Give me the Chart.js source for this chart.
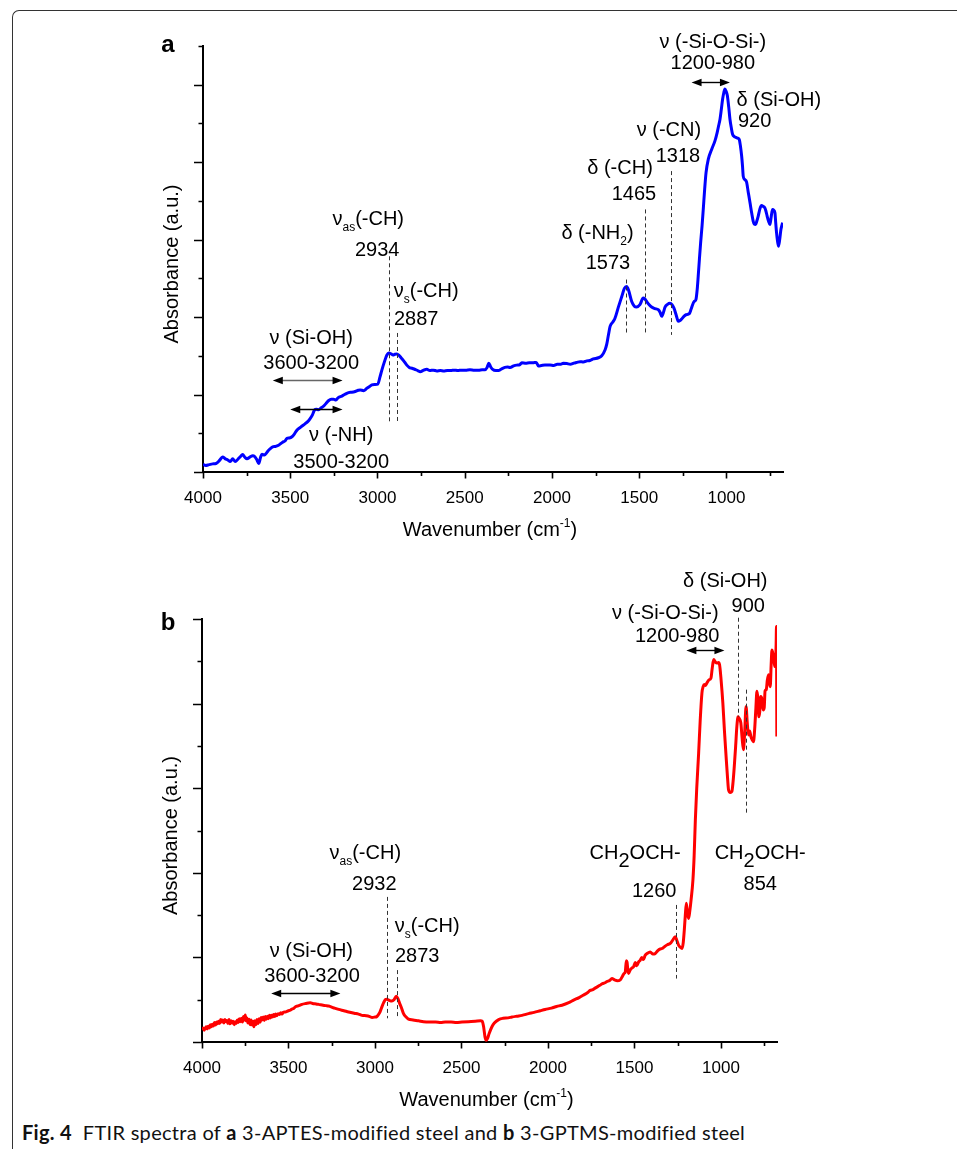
<!DOCTYPE html>
<html>
<head>
<meta charset="utf-8">
<title>FTIR spectra</title>
<script src="https://cdn.jsdelivr.net/npm/chart.js@4/dist/chart.umd.min.js"></script>
<style>
  html, body { margin: 0; padding: 0; background: #fff; }
  #page { position: relative; width: 957px; height: 1149px; overflow: hidden; background: #fff; }
  #frame { position: absolute; left: 12px; top: 10px; width: 980px; height: 1180px;
           border-left: 1px solid #333; border-top: 1px solid #333; border-top-left-radius: 7px; }
  canvas { position: absolute; left: 0; }
  #chartA { top: 0; }
  #chartB { top: 560px; }
  #caption { position: absolute; left: 22px; top: 1120px; font-family: Lato, "Liberation Sans", Arial, sans-serif;
             font-size: 20px; letter-spacing: 0.3px; color: #111; white-space: nowrap; }
  #caption b { font-weight: 700; }
</style>
</head>
<body>
<div id="page">
  <div id="frame"></div>
  <canvas id="chartA" width="957" height="560"></canvas>
  <canvas id="chartB" width="957" height="560"></canvas>
  <div id="caption"><b>Fig. 4</b>&nbsp; FTIR spectra of <b>a</b> 3-APTES-modified steel and <b>b</b> 3-GPTMS-modified steel</div>
</div>
<script>
// ---- Spectrum (a): 3-APTES-modified steel ----
const aWavenumber = [
  4000,3985,3965,3945,3925,3905,3888,3872,3858,3844,3830,3815,3800,3785,3773,3760,3748,3730,3715,3704,
  3692,3681,3670,3662,3648,3635,3620,3601,3585,3567,3544,3530,3519,3505,3490,3475,3462,3440,3414,3400,
  3386,3372,3361,3350,3338,3322,3309,3295,3281,3265,3252,3238,3225,3204,3185,3166,3148,3128,3110,3099,
  3080,3061,3045,3032,3015,2998,2986,2975,2960,2946,2935,2922,2911,2900,2889,2878,2865,2850,2832,2818,
  2803,2790,2770,2755,2735,2717,2700,2680,2660,2640,2620,2600,2580,2560,2540,2517,2495,2470,2445,2420,
  2400,2385,2372,2362,2352,2340,2322,2307,2290,2270,2255,2240,2220,2202,2185,2173,2150,2130,2110,2090,
  2078,2060,2040,2011,1990,1970,1950,1935,1915,1895,1875,1858,1839,1820,1800,1782,1763,1734,1715,1696,
  1686,1676,1667,1650,1639,1620,1600,1585,1572,1560,1543,1528,1515,1496,1477,1468,1457,1443,1429,1410,
  1391,1380,1371,1360,1352,1338,1324,1312,1301,1288,1276,1266,1257,1244,1232,1213,1203,1194,1185,1175,
  1168,1162,1155,1148,1140,1133,1125,1117,1104,1085,1066,1053,1045,1037,1029,1022,1015,1009,1002,995,
  987,980,972,965,955,946,936,927,920,913,908,904,895,885,875,865,856,847,840,833,
  826,818,808,799,790,780,774,767,759,751,744,736,729,722,718,713,708,702,695,688,678
];
const aAbsorbance = [
  0.20,0.17,0.19,0.21,0.22,0.30,0.39,0.34,0.31,0.27,0.34,0.27,0.33,0.40,0.45,0.38,0.34,0.39,0.42,0.40,
  0.32,0.22,0.38,0.46,0.44,0.50,0.58,0.65,0.66,0.69,0.77,0.80,0.87,0.88,0.91,0.99,1.08,1.16,1.25,1.30,
  1.38,1.48,1.60,1.62,1.61,1.66,1.70,1.77,1.84,1.88,1.88,1.86,1.92,1.96,2.01,2.05,2.06,2.08,2.11,2.12,
  2.10,2.16,2.21,2.25,2.26,2.27,2.45,2.63,2.85,3.02,3.07,3.05,3.02,3.04,3.05,3.02,2.95,2.87,2.76,2.70,
  2.68,2.66,2.62,2.59,2.63,2.65,2.62,2.63,2.61,2.62,2.61,2.62,2.62,2.63,2.62,2.63,2.63,2.64,2.63,2.63,
  2.64,2.64,2.70,2.81,2.72,2.65,2.62,2.62,2.66,2.70,2.71,2.70,2.74,2.76,2.77,2.82,2.81,2.82,2.82,2.83,
  2.74,2.75,2.76,2.76,2.75,2.78,2.78,2.81,2.80,2.78,2.81,2.83,2.85,2.84,2.87,2.88,2.92,2.95,3.00,3.15,
  3.30,3.55,3.76,3.88,3.97,4.25,4.53,4.74,4.79,4.68,4.40,4.28,4.26,4.32,4.49,4.47,4.40,4.32,4.26,4.22,
  4.19,4.12,4.02,4.14,4.26,4.33,4.36,4.32,4.23,4.05,3.89,3.91,3.95,4.02,4.06,4.09,4.20,4.32,4.40,4.45,
  4.70,5.05,5.50,5.92,6.35,6.78,7.30,7.73,8.08,8.33,8.55,8.77,8.94,9.11,9.38,9.63,9.80,9.89,9.83,9.72,
  9.42,9.11,8.88,8.72,8.66,8.64,8.62,8.59,8.42,8.16,7.90,7.64,7.55,7.49,7.22,6.95,6.70,6.48,6.40,6.39,
  6.48,6.61,6.80,6.88,6.86,6.82,6.74,6.61,6.48,6.39,6.58,6.78,6.76,6.69,6.45,6.18,5.98,5.83,6.00,6.26,6.44
];

// ---- Spectrum (b): 3-GPTMS-modified steel ----
const bWavenumber = [
  4000,3994,3988,3982,3976,3970,3964,3958,3952,3946,3940,3934,3928,3922,3916,3910,3904,3898,3892,3886,
  3880,3874,3868,3862,3856,3850,3844,3838,3832,3826,3820,3814,3808,3802,3796,3790,3784,3778,3772,3766,
  3760,3754,3750,3746,3740,3734,3728,3722,3716,3710,3704,3700,3694,3688,3682,3676,3670,3664,3658,3652,
  3646,3640,3634,3628,3622,3616,3610,3604,3598,3592,3586,3580,3574,3568,3560,3552,3545,3538,3530,3519,
  3500,3490,3480,3470,3461,3440,3422,3400,3385,3374,3360,3340,3326,3300,3285,3268,
  3240,3210,3180,3153,3120,3095,3075,3050,3030,3017,3000,2990,2983,2970,2960,2950,2940,2932,2925,2915,
  2902,2890,2877,2868,2858,2846,2835,2820,2806,2780,2748,2720,2690,2650,2620,2594,2560,2530,2497,2460,
  2420,2390,2380,2372,2364,2357,2350,2340,2324,2310,2285,2260,2230,2208,2180,2150,2112,2080,2044,2016,
  1980,1950,1919,1880,1852,1820,1790,1770,1756,1740,1725,1700,1685,1670,1659,1645,1630,1615,1600,1582,
  1570,1560,1553,1547,1543,1538,1534,1525,1515,1505,1495,1487,1475,1467,1458,1448,1438,1425,1409,1395,
  1380,1365,1350,1341,1325,1310,1293,1280,1264,1255,1245,1235,1225,1218,1212,1206,1200,1194,1187,1180,
  1173,1162,1155,1148,1140,1129,1120,1110,1103,1096,1089,1081,1070,1058,1050,1042,1032,1023,1015,1008,
  999,989,979,969,962,956,946,937,930,923,915,908,901,896,885,878,870,863,855,848,
  841,834,827,820,812,805,798,792,786,781,776,770,763,756,750,745,738,732,725,720,
  715,710,705,700,696,690,686,681,679,677
];
const bAbsorbance = [
  0.29,0.33,0.28,0.32,0.36,0.31,0.37,0.33,0.41,0.36,0.42,0.38,0.46,0.40,0.47,0.43,0.49,0.44,0.53,0.47,
  0.52,0.45,0.53,0.48,0.51,0.44,0.53,0.43,0.50,0.45,0.49,0.41,0.48,0.44,0.52,0.46,0.55,0.48,0.56,0.47,
  0.60,0.52,0.64,0.50,0.57,0.45,0.54,0.41,0.52,0.40,0.49,0.36,0.50,0.41,0.53,0.44,0.55,0.47,0.58,0.52,
  0.59,0.51,0.60,0.54,0.61,0.55,0.63,0.57,0.63,0.59,0.65,0.60,0.66,0.62,0.67,0.65,0.69,0.66,0.70,0.71,
  0.74,0.75,0.78,0.79,0.83,0.86,0.89,0.91,0.92,0.93,0.91,0.90,0.89,0.87,0.86,0.85,
  0.81,0.77,0.74,0.71,0.68,0.66,0.63,0.62,0.60,0.58,0.59,0.60,0.63,0.72,0.83,0.93,1.00,1.01,1.00,0.98,
  0.97,1.00,1.08,1.03,0.92,0.80,0.67,0.59,0.54,0.52,0.50,0.48,0.47,0.47,0.46,0.47,0.47,0.46,0.47,0.48,
  0.49,0.50,0.49,0.36,0.12,0.04,0.08,0.20,0.36,0.45,0.53,0.56,0.57,0.59,0.61,0.63,0.67,0.70,0.74,0.77,
  0.80,0.84,0.87,0.93,0.99,1.05,1.12,1.17,1.22,1.24,1.28,1.34,1.38,1.40,1.43,1.45,1.50,1.47,1.45,1.47,
  1.55,1.62,1.66,1.92,1.89,1.70,1.62,1.70,1.75,1.78,1.88,1.80,1.90,1.93,2.00,1.95,2.05,2.10,2.13,2.08,
  2.09,2.16,2.20,2.21,2.26,2.30,2.33,2.40,2.49,2.40,2.29,2.24,2.21,2.35,2.64,3.00,3.28,3.05,2.92,3.10,
  3.35,3.83,4.40,5.25,6.00,6.83,7.60,8.25,8.40,8.45,8.43,8.49,8.56,8.60,8.85,9.04,8.98,8.96,8.97,8.92,
  8.55,8.01,7.30,6.67,6.25,5.96,5.90,5.92,6.15,6.51,7.00,7.46,7.69,7.66,7.54,7.20,6.91,7.30,7.93,7.55,
  7.26,7.35,7.22,7.15,7.10,7.40,7.90,8.29,8.10,7.69,7.80,8.17,8.10,7.85,7.90,8.30,8.33,8.55,8.68,8.50,
  8.40,8.90,9.27,9.19,9.15,8.88,8.88,9.40,9.82,7.22
];

// ---- Axis ticks (cm-1) ----
const xMajorTicks = [4000, 3500, 3000, 2500, 2000, 1500, 1000];
const xMinorTicks = [3750, 3250, 2750, 2250, 1750, 1250, 750];
const X_MAX = 4000;
const X_MIN = 676;

const FONT = '"Liberation Sans", Arial, Helvetica, sans-serif';

// Mixed-size text runs: [text, style] where style '' = normal, 's' = small subscript,
// 'S' = full-size lowered subscript, 'p' = small superscript.
function segFont(seg, base) {
  const st = seg[1] || '';
  const size = (st === 's' || st === 'p') ? Math.round(base * 0.6) : base;
  return { size, dy: st === 's' ? base * 0.3 : st === 'S' ? base * 0.4 : st === 'p' ? -base * 0.45 : 0 };
}
function drawRich(ctx, segs, x, cy, align, base) {
  base = base || 20;
  let w = 0;
  for (const s of segs) { const f = segFont(s, base); ctx.font = f.size + 'px ' + FONT; w += ctx.measureText(s[0]).width; }
  let cx = align === 'left' ? x : x - w / 2;
  const baseline = cy + base * 0.36;
  ctx.textAlign = 'left';
  ctx.textBaseline = 'alphabetic';
  ctx.fillStyle = '#000';
  for (const s of segs) {
    const f = segFont(s, base);
    ctx.font = f.size + 'px ' + FONT;
    ctx.fillText(s[0], cx, baseline + f.dy);
    cx += ctx.measureText(s[0]).width;
  }
}

function arrowHead(ctx, x, y, dir) {
  ctx.beginPath();
  ctx.moveTo(x, y);
  ctx.lineTo(x - dir * 10, y - 3.8);
  ctx.lineTo(x - dir * 10, y + 3.8);
  ctx.closePath();
  ctx.fill();
}

// Outward tick marks: long at major positions, short at minor ones
function tickMarks() {
  return {
    id: 'tickMarks',
    afterDraw(chart) {
      const { ctx, chartArea: a, scales: { x, y } } = chart;
      ctx.save();
      ctx.strokeStyle = '#000';
      ctx.lineWidth = 1.6;
      ctx.beginPath();
      for (let v = y.min; v <= y.max + 1e-9; v += 1) {
        const py = Math.round(y.getPixelForValue(v)) + 0.5;
        const len = (Math.round(v) % 2 === 0) ? 9 : 4.5;
        ctx.moveTo(a.left - len, py); ctx.lineTo(a.left, py);
      }
      for (const w of xMajorTicks) {
        const px = Math.round(x.getPixelForValue(w)) + 0.5;
        ctx.moveTo(px, a.bottom); ctx.lineTo(px, a.bottom + 6.5);
      }
      for (const w of xMinorTicks) {
        const px = Math.round(x.getPixelForValue(w)) + 0.5;
        ctx.moveTo(px, a.bottom); ctx.lineTo(px, a.bottom + 4);
      }
      ctx.stroke();
      ctx.restore();
    }
  };
}

// Band labels, marker lines, range arrows, axis titles and panel letter
function bandLabels(items, panel) {
  return {
    id: 'bandLabels',
    afterDraw(chart) {
      const { ctx, chartArea: a, scales: { x, y } } = chart;
      ctx.save();
      for (const it of items) {
        if (it.kind === 'text') {
          drawRich(ctx, it.segs, x.getPixelForValue(it.x), y.getPixelForValue(it.y), it.align || 'center', 20);
        } else if (it.kind === 'dash') {
          const px = Math.round(x.getPixelForValue(it.x)) + 0.5;
          ctx.save();
          ctx.strokeStyle = '#333';
          ctx.lineWidth = 1;
          ctx.setLineDash([4, 3]);
          ctx.beginPath();
          ctx.moveTo(px, y.getPixelForValue(it.y1));
          ctx.lineTo(px, y.getPixelForValue(it.y2));
          ctx.stroke();
          ctx.restore();
        } else if (it.kind === 'arrow') {
          const x1 = x.getPixelForValue(it.from), x2 = x.getPixelForValue(it.to);
          const py = Math.round(y.getPixelForValue(it.y)) + 0.5;
          ctx.save();
          ctx.strokeStyle = it.color || '#000';
          ctx.lineWidth = 1.4;
          ctx.beginPath(); ctx.moveTo(x1 + 6, py); ctx.lineTo(x2 - 6, py); ctx.stroke();
          ctx.fillStyle = '#000';
          arrowHead(ctx, x1, py, -1);
          arrowHead(ctx, x2, py, 1);
          ctx.restore();
        }
      }
      // panel letter
      ctx.fillStyle = '#000';
      ctx.font = 'bold 24px ' + FONT;
      ctx.textAlign = 'center';
      ctx.textBaseline = 'alphabetic';
      ctx.fillText(panel.text, a.left + panel.dx, a.top + panel.dy);
      // y title
      ctx.save();
      ctx.translate(a.left - 31, (a.top + a.bottom) / 2 + 5);
      ctx.rotate(-Math.PI / 2);
      ctx.font = '20px ' + FONT;
      ctx.textAlign = 'center';
      ctx.textBaseline = 'middle';
      ctx.fillText('Absorbance (a.u.)', 0, 0);
      ctx.restore();
      // x title
      drawRich(ctx, [['Wavenumber (cm'], ['-1', 'p'], [')']], (a.left + a.right) / 2 - 3, a.bottom + 57, 'center', 20);
      ctx.restore();
    }
  };
}

function buildSpectrum(canvasId, wn, absorb, color, yMax, box, items, panel) {
  const canvas = document.getElementById(canvasId);
  const W = canvas.width, H = canvas.height;
  return new Chart(canvas, {
    type: 'line',
    data: {
      datasets: [{
        data: wn.map((w, i) => ({ x: w, y: absorb[i] })),
        borderColor: color,
        borderWidth: 3,
        pointRadius: 0,
        fill: false,
        cubicInterpolationMode: 'monotone'
      }]
    },
    options: {
      responsive: false,
      animation: false,
      devicePixelRatio: 1,
      layout: { padding: { top: box.top, right: W - box.right, bottom: 0, left: 0 } },
      plugins: { legend: { display: false }, tooltip: { enabled: false }, title: { display: false } },
      scales: {
        x: {
          type: 'linear',
          reverse: true,
          min: X_MIN,
          max: X_MAX,
          grid: { display: false },
          border: { display: true, color: '#000', width: 2 },
          afterBuildTicks(scale) {
            scale.ticks = xMajorTicks.concat(xMinorTicks).sort((p, q) => q - p).map(v => ({ value: v }));
          },
          afterFit(scale) { scale.height = H - box.bottom; },
          ticks: {
            autoSkip: false,
            maxRotation: 0,
            padding: 8,
            color: '#000',
            font: { family: FONT, size: 17 },
            callback: (v) => (xMajorTicks.includes(v) ? String(v) : '')
          }
        },
        y: {
          min: 0,
          max: yMax,
          grid: { display: false },
          border: { display: true, color: '#000', width: 2 },
          ticks: { display: false },
          afterFit(scale) { scale.width = box.left; }
        }
      }
    },
    plugins: [tickMarks(), bandLabels(items, panel)]
  });
}

const aBands = [
  { kind: 'text', segs: [['ν (-Si-O-Si-)']], x: 1078, y: 11.13 },
  { kind: 'text', segs: [['1200-980']], x: 1078, y: 10.59 },
  { kind: 'arrow', from: 1200, to: 980, y: 10.06 },
  { kind: 'text', segs: [['δ (Si-OH)']], x: 942, y: 9.63, align: 'left' },
  { kind: 'text', segs: [['920']], x: 934, y: 9.09, align: 'left' },
  { kind: 'text', segs: [['ν (-CN)']], x: 1330, y: 8.85 },
  { kind: 'text', segs: [['1318']], x: 1278, y: 8.2 },
  { kind: 'dash', x: 1318, y1: 7.77, y2: 3.54 },
  { kind: 'text', segs: [['δ (-CH)']], x: 1610, y: 7.87 },
  { kind: 'text', segs: [['1465']], x: 1530, y: 7.22 },
  { kind: 'dash', x: 1465, y1: 6.78, y2: 3.54 },
  { kind: 'text', segs: [['δ (-NH'], ['2', 's'], [')']], x: 1739, y: 6.21 },
  { kind: 'text', segs: [['1573']], x: 1679, y: 5.43 },
  { kind: 'dash', x: 1573, y1: 4.97, y2: 3.54 },
  { kind: 'text', segs: [['ν'], ['as', 's'], ['(-CH)']], x: 3053, y: 6.57 },
  { kind: 'text', segs: [['2934']], x: 3002, y: 5.77 },
  { kind: 'dash', x: 2934, y1: 5.57, y2: 1.30 },
  { kind: 'text', segs: [['ν'], ['s', 's'], ['(-CH)']], x: 2721, y: 4.71 },
  { kind: 'text', segs: [['2887']], x: 2778, y: 3.98 },
  { kind: 'dash', x: 2887, y1: 3.59, y2: 1.26 },
  { kind: 'text', segs: [['ν (Si-OH)']], x: 3380, y: 3.49 },
  { kind: 'text', segs: [['3600-3200']], x: 3380, y: 2.84 },
  { kind: 'arrow', from: 3600, to: 3200, y: 2.38, color: '#666' },
  { kind: 'arrow', from: 3500, to: 3200, y: 1.62 },
  { kind: 'text', segs: [['ν (-NH)']], x: 3208, y: 0.98 },
  { kind: 'text', segs: [['3500-3200']], x: 3208, y: 0.30 }
];

const bBands = [
  { kind: 'text', segs: [['ν'], ['as', 's'], ['(-CH)']], x: 3056, y: 4.49 },
  { kind: 'text', segs: [['2932']], x: 3004, y: 3.76 },
  { kind: 'dash', x: 2932, y1: 3.43, y2: 0.56 },
  { kind: 'text', segs: [['ν'], ['s', 's'], ['(-CH)']], x: 2698, y: 2.76 },
  { kind: 'text', segs: [['2873']], x: 2756, y: 2.05 },
  { kind: 'dash', x: 2873, y1: 1.70, y2: 0.56 },
  { kind: 'text', segs: [['ν (Si-OH)']], x: 3368, y: 2.17 },
  { kind: 'text', segs: [['3600-3200']], x: 3364, y: 1.58 },
  { kind: 'arrow', from: 3600, to: 3200, y: 1.16 },
  { kind: 'text', segs: [['δ (Si-OH)']], x: 975, y: 10.93 },
  { kind: 'text', segs: [['900']], x: 842, y: 10.34 },
  { kind: 'dash', x: 900, y1: 10.03, y2: 7.69 },
  { kind: 'text', segs: [['ν (-Si-O-Si-)']], x: 1322, y: 10.17 },
  { kind: 'text', segs: [['1200-980']], x: 1253, y: 9.63 },
  { kind: 'arrow', from: 1200, to: 980, y: 9.26 },
  { kind: 'text', segs: [['CH'], ['2', 'S'], ['OCH-']], x: 1496, y: 4.49 },
  { kind: 'text', segs: [['1260']], x: 1386, y: 3.59 },
  { kind: 'dash', x: 1260, y1: 3.24, y2: 1.50 },
  { kind: 'text', segs: [['CH'], ['2', 'S'], ['OCH-']], x: 773, y: 4.49 },
  { kind: 'text', segs: [['854']], x: 773, y: 3.76 },
  { kind: 'dash', x: 854, y1: 8.33, y2: 5.37 }
];

buildSpectrum('chartA', aWavenumber, aAbsorbance, '#0000ff', 11,
  { left: 203, right: 783, top: 46, bottom: 472 }, aBands, { text: 'a', dx: -35, dy: 5.5 });
buildSpectrum('chartB', bWavenumber, bAbsorbance, '#ff0000', 10,
  { left: 202, right: 777, top: 59, bottom: 482 }, bBands, { text: 'b', dx: -34, dy: 11 });
</script>
</body>
</html>
